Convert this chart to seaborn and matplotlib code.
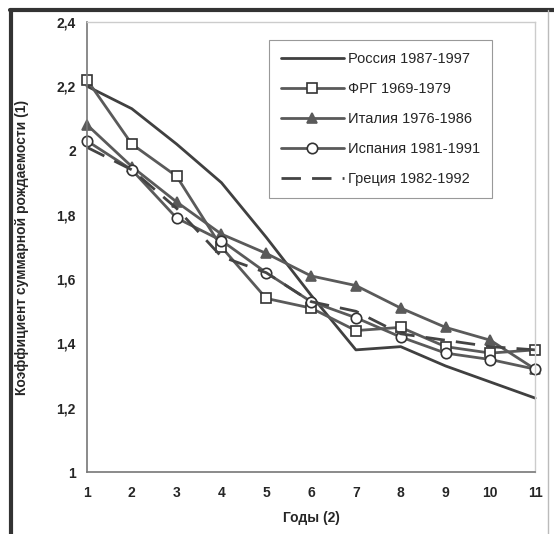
import matplotlib
matplotlib.use("Agg")
import matplotlib.pyplot as plt
import matplotlib.ticker as mticker
from matplotlib.lines import Line2D
import seaborn as sns
import pandas as pd

years = list(range(1, 12))
russia = [2.20, 2.13, 2.02, 1.90, 1.73, 1.55, 1.38, 1.39, 1.33, 1.28, 1.23]
frg = [2.22, 2.02, 1.92, 1.70, 1.54, 1.51, 1.44, 1.45, 1.39, 1.37, 1.38]
italy = [2.08, 1.95, 1.84, 1.74, 1.68, 1.61, 1.58, 1.51, 1.45, 1.41, 1.32]
spain = [2.03, 1.94, 1.79, 1.72, 1.62, 1.53, 1.48, 1.42, 1.37, 1.35, 1.32]
greece = [2.01, 1.94, 1.82, 1.67, 1.62, 1.53, 1.50, 1.43, 1.41, 1.39, 1.38]

labels = ["Россия 1987-1997", "ФРГ 1969-1979", "Италия 1976-1986",
          "Испания 1981-1991", "Греция 1982-1992"]

df = pd.DataFrame({"year": years * 5,
                   "value": russia + frg + italy + spain + greece,
                   "series": sum([[l] * 11 for l in labels], [])})

sns.set_style("white")
plt.rcParams["font.family"] = ["Liberation Sans", "DejaVu Sans"]

fig = plt.figure(figsize=(5.54, 5.34), dpi=100)
ax = fig.add_axes([0.157, 0.116, 0.809, 0.843])

gray = "#5a5a5a"
styles = {
    labels[0]: dict(color="#404040", marker=None),
    labels[1]: dict(color=gray, marker="s", mfc="white", mec="#333333", ms=7.5),
    labels[2]: dict(color=gray, marker="^", mfc=gray, mec=gray, ms=7),
    labels[3]: dict(color=gray, marker="o", mfc="white", mec="#333333", ms=7.5),
    labels[4]: dict(color="#444444", marker=None, dashes=(7, 4)),
}
for lab in labels:
    st = styles[lab]
    sub = df[df["series"] == lab]
    kw = dict(x="year", y="value", data=sub, ax=ax, label=lab, color=st["color"], lw=2)
    if st["marker"]:
        kw.update(marker=st["marker"], markerfacecolor=st["mfc"],
                  markeredgecolor=st["mec"], markersize=st["ms"], markeredgewidth=1.2)
    sns.lineplot(**kw)
    ax.lines[-1].set_clip_on(False)
    if "dashes" in st:
        ax.lines[-1].set_dashes(st["dashes"])

ax.set_xlim(1, 11)
ax.set_ylim(1, 2.4)
ax.set_xticks(years)
ax.set_yticks([1, 1.2, 1.4, 1.6, 1.8, 2, 2.2, 2.4])
ax.yaxis.set_major_formatter(mticker.FuncFormatter(
    lambda v, p: ("%g" % round(v, 1)).replace(".", ",")))
ax.tick_params(axis="both", labelsize=10, length=3, color="#888888", direction="in")
for t in ax.get_xticklabels() + ax.get_yticklabels():
    t.set_fontweight("bold")
ax.tick_params(axis="x", pad=10)
ax.tick_params(axis="y", pad=8)

for s in ["top", "right"]:
    ax.spines[s].set_color("#cccccc")
    ax.spines[s].set_linewidth(1)
for s in ["left", "bottom"]:
    ax.spines[s].set_color("#777777")
    ax.spines[s].set_linewidth(1.2)

ax.set_xlabel("Годы (2)", fontsize=10, fontweight="bold", labelpad=8)
ax.set_ylabel("Коэффициент суммарной рождаемости (1)", fontsize=10,
              fontweight="bold", labelpad=20)

leg = ax.legend(loc="upper right", bbox_to_anchor=(0.92, 0.975), fontsize=10.5,
                handlelength=4.3, labelspacing=1.1, borderpad=0.8, handletextpad=0.3,
                fancybox=False, framealpha=1, edgecolor="#999999")
leg.get_frame().set_linewidth(0.8)
for h in leg.legend_handles:
    h.set_clip_on(True)

# outer frame of the scanned figure
fig.add_artist(Line2D([0.019, 0.019], [0, 0.982], color="#333333", lw=3,
                      transform=fig.transFigure))
fig.add_artist(Line2D([0.018, 1.0], [0.981, 0.981], color="#333333", lw=3,
                      transform=fig.transFigure))
fig.add_artist(Line2D([0.99, 0.99], [0, 0.981], color="#bbbbbb", lw=1,
                      transform=fig.transFigure))

fig.savefig("out.png", dpi=100)
